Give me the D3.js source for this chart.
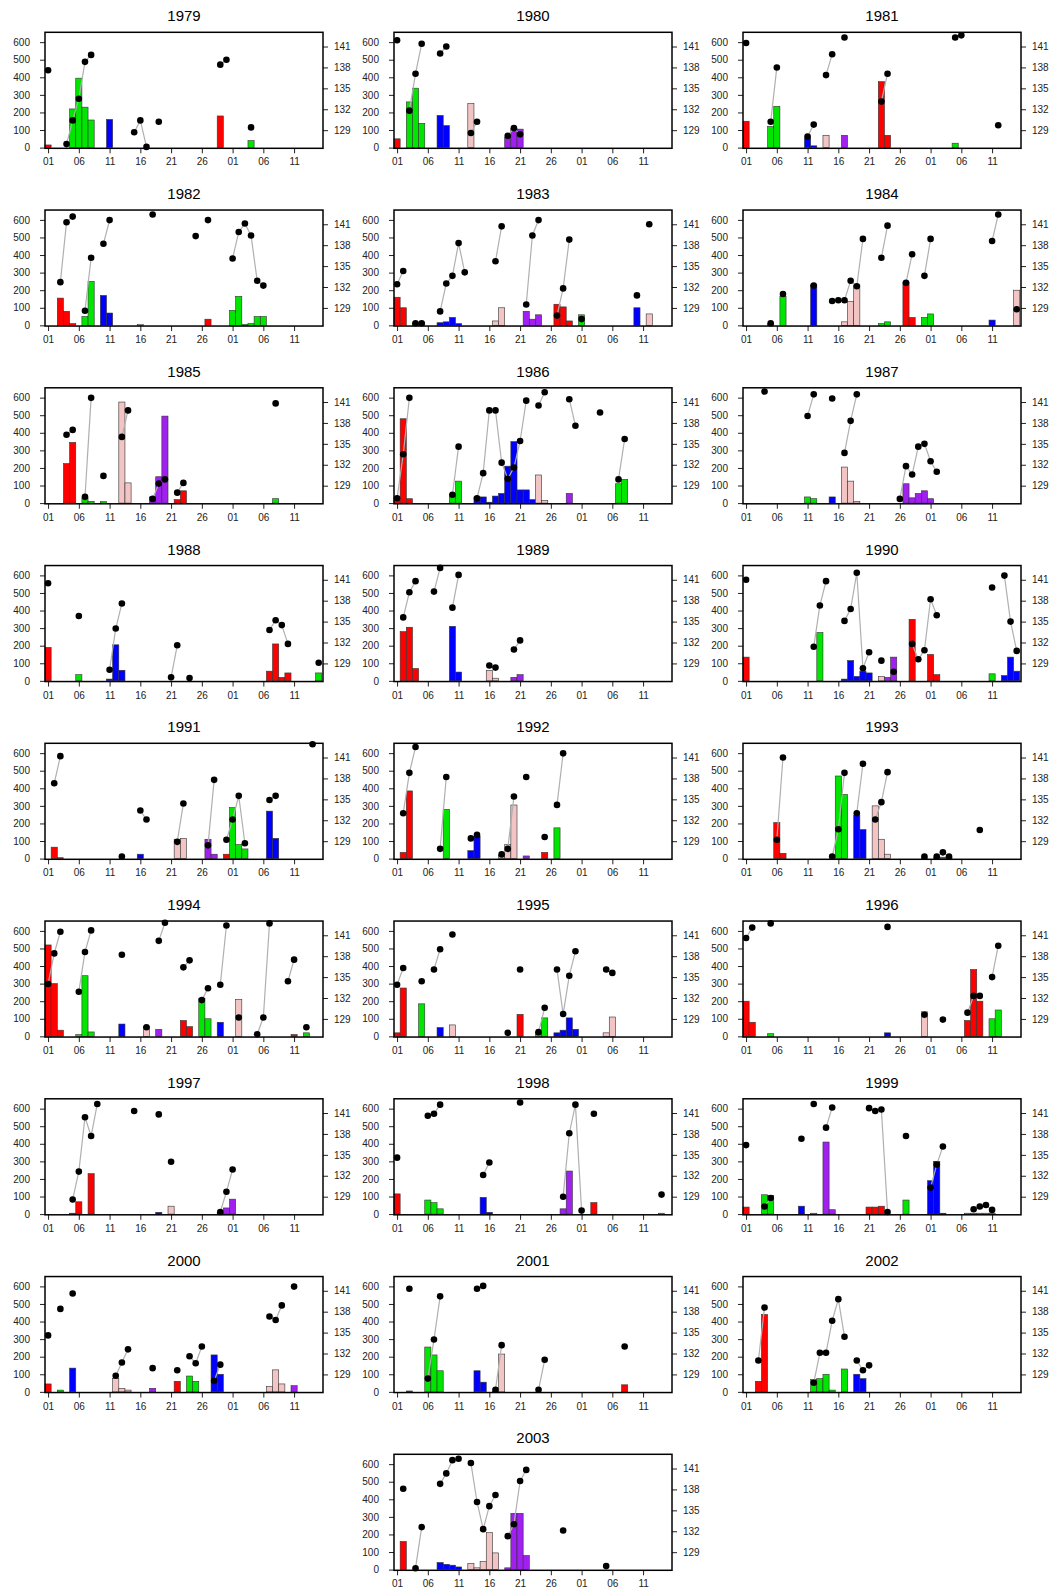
<!DOCTYPE html>
<html>
<head>
<meta charset="utf-8">
<script src="https://cdn.jsdelivr.net/npm/d3@7"></script>
<style>
  body { margin: 0; background: #fff; }
  text { font-family: "Liberation Sans", Arial, sans-serif; }
</style>
</head>
<body>
<script>
const width = 1061
const height = 1595

const years = d3.range(1979, 2004)
const dayTicks = [0, 5, 10, 15, 20, 25, 30, 35, 40]
const dayLabels = ["01", "06", "11", "16", "21", "26", "01", "06", "11"]
const leftTicks = [0, 100, 200, 300, 400, 500, 600]
const rightTicks = [129, 132, 135, 138, 141]

// bar runs: [year, class, first day, values for consecutive days...]
const barRuns = [
  [1979,"r",0,15],[1979,"g",4,220,395,230,157],[1979,"b",10,160],[1979,"r",28,180],[1979,"g",33,40],
  [1980,"r",0,50],[1980,"g",2,260,338,138],[1980,"b",7,183,125],[1980,"p",12,250],[1980,"v",18,60,110,105],
  [1981,"r",0,150],[1981,"g",4,120,235],[1981,"b",10,55,10],[1981,"p",13,70],[1981,"v",16,70],[1981,"r",22,375,70],[1981,"g",34,25],
  [1982,"r",2,155,80,10],[1982,"g",6,50,250],[1982,"b",9,170,70],[1982,"p",15,4],[1982,"r",26,35],[1982,"g",30,85,165,5,10,50,50],
  [1983,"r",0,160,100],[1983,"g",3,15,15],[1983,"b",7,15,20,45,10],[1983,"p",16,25,100],[1983,"v",21,80,35,60],[1983,"r",26,120,105,25],[1983,"g",30,60],[1983,"b",39,100],[1983,"p",41,65],
  [1984,"g",4,8,0,165],[1984,"b",11,230],[1984,"p",16,20,135,230],[1984,"g",22,10,20],[1984,"r",26,245,45],[1984,"g",29,45,65],[1984,"b",40,30],[1984,"p",44,200],
  [1985,"r",3,225,345],[1985,"g",6,30,10,0,8],[1985,"p",12,575,115],[1985,"v",17,35,150,495],[1985,"r",21,20,70],[1985,"g",37,25],
  [1986,"r",0,35,480,25],[1986,"g",9,50,125],[1986,"b",13,35,35,5,40,55,210,350,75,75,20],[1986,"p",23,160,15],[1986,"v",28,55],[1986,"g",36,110,135],
  [1987,"g",10,35,25],[1987,"b",14,35],[1987,"p",16,205,125,10],[1987,"v",26,110,30,55,70,25],
  [1988,"r",0,190],[1988,"g",5,35],[1988,"b",10,10,205,60],[1988,"r",36,55,210,20,45],[1988,"g",44,45],
  [1989,"r",1,280,305,70],[1989,"b",9,310,50],[1989,"p",15,60,15],[1989,"v",19,20,35],
  [1990,"r",0,135],[1990,"g",12,275],[1990,"b",16,10,115,25,55,45],[1990,"p",22,25],[1990,"v",23,20,135],[1990,"r",27,350,0,0,150,35],[1990,"g",40,40],[1990,"b",42,30,135,55],
  [1991,"r",1,65,5],[1991,"b",15,25],[1991,"p",21,110,115],[1991,"v",26,110,25],[1991,"r",29,25],[1991,"g",30,290,80,55],[1991,"b",36,270,115],
  [1992,"r",1,35,385],[1992,"g",8,280],[1992,"b",12,45,125],[1992,"p",17,20,80,305],[1992,"v",21,15],[1992,"r",24,35],[1992,"g",26,175],
  [1993,"r",5,205,30],[1993,"g",15,470,365],[1993,"b",18,245,165],[1993,"p",21,300,110,25],[1993,"v",29,5,0,5,8,5],
  [1994,"r",0,520,300,35],[1994,"g",5,10,345,25],[1994,"b",12,70],[1994,"p",16,55],[1994,"v",18,40],[1994,"r",22,90,55],[1994,"g",25,215,100],[1994,"b",28,80],[1994,"p",31,210],[1994,"r",40,10],[1994,"g",42,20],
  [1995,"r",0,20,275],[1995,"g",4,185],[1995,"b",7,50],[1995,"p",9,65],[1995,"r",20,125],[1995,"g",23,25,105],[1995,"b",26,20,35,105,40],[1995,"p",34,20,110],
  [1996,"r",0,200,80],[1996,"g",4,15],[1996,"b",23,20],[1996,"p",29,140],[1996,"r",36,90,380,200],[1996,"g",40,100,150],
  [1997,"r",4,5,70,0,230],[1997,"b",18,10],[1997,"p",20,45],[1997,"v",28,10,35,85],
  [1998,"r",0,115],[1998,"g",5,80,65,30],[1998,"b",14,95,10],[1998,"v",27,30,245],[1998,"r",32,65],[1998,"p",43,5],
  [1999,"r",0,40],[1999,"g",3,110,105],[1999,"b",9,45],[1999,"p",11,5],[1999,"v",13,410,25],[1999,"r",20,40,40,45],[1999,"g",26,80],[1999,"b",30,190,300,5],[1999,"p",36,5,5,5,5,5],
  [2000,"r",0,45],[2000,"g",2,10],[2000,"b",4,135],[2000,"p",11,75,20,10],[2000,"v",17,20],[2000,"r",21,60],[2000,"g",23,90,60],[2000,"b",27,210,100],[2000,"p",36,30,125,45],[2000,"v",40,35],
  [2001,"r",2,5],[2001,"g",5,255,210,120],[2001,"b",13,120,55],[2001,"p",16,5,215],[2001,"r",37,40],
  [2002,"r",2,60,440],[2002,"g",11,70,75,100,10],[2002,"g",16,130],[2002,"b",18,100,75],
  [2003,"r",1,160],[2003,"b",7,40,30,25,15],[2003,"p",12,35,10,45,210,95],[2003,"v",18,10,320,320,80]
]

// dot runs (right axis): [year, first day, values for consecutive days...]
const dotRuns = [
  [1979,0,137.6],[1979,3,127.0,130.4,133.5,138.8,139.8],[1979,14,128.7,130.4,126.6],[1979,18,130.2],[1979,28,138.4,139.1],[1979,33,129.4],
  [1980,0,141.9],[1980,2,131.8,137.1,141.4],[1980,7,140.0,141.0],[1980,12,128.6,130.2],[1980,18,128.2,129.3,128.4],
  [1981,0,141.5],[1981,4,130.2,138.0],[1981,10,128.1,129.8],[1981,13,136.9,139.9],[1981,16,142.3],[1981,22,133.1,137.1],[1981,34,142.3,142.6],[1981,41,129.7],
  [1982,2,132.7,141.3,142.1],[1982,6,128.6,136.2],[1982,9,138.2,141.6],[1982,17,142.4],[1982,24,139.3],[1982,26,141.6],[1982,30,136.1,139.9,141.1,139.4,132.9,132.2],
  [1983,0,132.4,134.3],[1983,3,126.8,126.8],[1983,7,128.5,132.5,133.6,138.3,134.1],[1983,16,135.7,140.7],[1983,21,129.5,139.4,141.6],[1983,26,127.9,131.8,138.8],[1983,30,127.4],[1983,39,130.8],[1983,41,141.0],
  [1984,4,126.8],[1984,6,131.0],[1984,11,132.2],[1984,14,130.0,130.1,130.1,132.9,132.1,138.9],[1984,22,136.2,140.8],[1984,26,132.6,136.7],[1984,29,133.6,138.9],[1984,40,138.6,142.4],[1984,44,128.8],
  [1985,3,136.3,137.0],[1985,6,127.4,141.6],[1985,9,130.4],[1985,12,136.0,139.8],[1985,17,127.1,129.3,129.9],[1985,21,128.0,129.4],[1985,37,140.8],
  [1986,0,127.2,133.5,141.6],[1986,9,127.7,134.6],[1986,13,127.2,130.8,139.8,139.8,132.3,130.0,131.6,135.4,141.2],[1986,23,140.5,142.4],[1986,28,141.4,137.6],[1986,33,139.5],[1986,36,129.9,135.7],
  [1987,3,142.5],[1987,10,139.0,142.1],[1987,14,141.5],[1987,16,133.7,138.3,142.1],[1987,25,127.1,131.8,130.6,134.6,135.0,132.5,131.0],
  [1988,0,140.5],[1988,5,135.8],[1988,10,128.1,134.0,137.6],[1988,20,127.0,131.6],[1988,23,126.9],[1988,36,133.8,135.2,134.5,131.8],[1988,44,129.1],
  [1989,1,135.6,139.2,140.8],[1989,6,139.3,142.7],[1989,9,137.0,141.7],[1989,15,128.7,128.4],[1989,19,131.0,132.3],
  [1990,0,141.0],[1990,11,131.4,137.3,140.8],[1990,16,135.1,136.8,142.0,128.3,130.6],[1990,22,129.4],[1990,24,127.8],[1990,27,131.8,129.6,130.9,138.2,135.9],[1990,40,139.9],[1990,42,141.6,135.0,130.8],
  [1991,1,137.3,141.2],[1991,12,126.8],[1991,15,133.4,132.1],[1991,21,128.9,134.4],[1991,26,128.4,137.8],[1991,29,129.2,132.1,135.5,128.7],[1991,36,134.9,135.5],[1991,43,142.9],
  [1992,1,133.0,138.8,142.5],[1992,7,127.9,138.2],[1992,12,129.4,129.9],[1992,17,127.1,127.9,135.4],[1992,21,138.2],[1992,24,129.6],[1992,26,134.2,141.6],
  [1993,5,129.2,141.0],[1993,14,126.8,130.7,138.8],[1993,18,133.0,140.1],[1993,21,132.1,134.6,138.9],[1993,29,126.8],[1993,31,126.8,127.4,126.8],[1993,38,130.6],
  [1994,0,134.0,138.4,141.5],[1994,5,132.9,138.6,141.7],[1994,12,138.2],[1994,16,127.8],[1994,18,140.2,142.8],[1994,22,136.4,137.4],[1994,25,131.7,133.4],[1994,28,133.9,142.4],[1994,31,129.2],[1994,34,126.8,129.2,142.7],[1994,39,134.4,137.5],[1994,42,127.8],
  [1995,0,133.9,136.3],[1995,4,134.4],[1995,6,136.1,139.0],[1995,9,141.1],[1995,18,127.0],[1995,20,136.1],[1995,23,127.1,130.6],[1995,26,136.1,129.7,135.2,138.7],[1995,34,136.1,135.6],
  [1996,0,140.6,142.1],[1996,4,142.7],[1996,23,142.2],[1996,29,129.6],[1996,32,128.9],[1996,36,129.9,132.3,132.3],[1996,40,135.0,139.5],
  [1997,4,128.6,132.6,140.4,137.7,142.3],[1997,14,141.3],[1997,18,140.8],[1997,20,134.0],[1997,28,126.8,129.7,132.9],
  [1998,0,134.6],[1998,5,140.6,140.9,142.2],[1998,14,132.1,133.9],[1998,20,142.5],[1998,27,129.0,138.1,142.2,127.0],[1998,32,140.9],[1998,43,129.3],
  [1999,0,136.4],[1999,3,127.6,128.8],[1999,9,137.3],[1999,11,142.3],[1999,13,138.9,141.8],[1999,20,141.7,141.3,141.5,126.8],[1999,26,137.7],[1999,30,130.3,133.6,136.2],[1999,37,127.2,127.6,127.8,127.1],
  [2000,0,134.6],[2000,2,138.4],[2000,4,140.6],[2000,11,128.8,130.7,132.6],[2000,17,129.9],[2000,21,129.6],[2000,23,131.6,130.6,133.0],[2000,27,128.1,130.4],[2000,36,137.3,136.8,138.9],[2000,40,141.6],
  [2001,2,141.3],[2001,5,128.4,134.0,140.2],[2001,13,141.3,141.7],[2001,16,126.8,133.2],[2001,23,126.8,131.1],[2001,37,133.0],
  [2002,2,131.0,138.6],[2002,11,127.8,132.1,132.1,136.7,139.8,134.4],[2002,18,131.0,129.6,130.3],
  [2003,1,138.1],[2003,3,126.7,132.6],[2003,7,138.8,140.3,142.2,142.4],[2003,12,141.8,136.2,132.3,135.6,137.2],[2003,18,131.3,133.0,139.2,140.8],[2003,27,132.1],[2003,34,127.0]
]

const classColor = {r: "#ff0000", g: "#00e600", b: "#0000ff", p: "#f2c4c4", v: "#a020f0"}

const panelW = 278
const panelH = 116
const colLeft = [45, 394, 743]
const rowTop = r => 32.3 + 177.75 * r

const x = d3.scaleLinear().domain([-0.5, 44.7]).range([0, panelW])
const yL = d3.scaleLinear().domain([-4, 656]).range([panelH, 0])
const yR = d3.scaleLinear().domain([126.4, 143.04]).range([panelH, 0])

const svg = d3.select("body").append("svg")
    .attr("width", width)
    .attr("height", height)
    .attr("viewBox", [0, 0, width, height])

years.forEach((year, i) => {
    const col = i === 24 ? 1 : i % 3
    const row = Math.floor(i / 3)
    const g = svg.append("g")
        .attr("transform", `translate(${colLeft[col]},${rowTop(row)})`)

    g.append("text")
        .attr("x", panelW / 2)
        .attr("y", -11)
        .attr("text-anchor", "middle")
        .attr("font-size", 15)
        .text(year)

    // bars
    const bars = []
    barRuns.filter(d => d[0] === year).forEach(run => {
        run.slice(3).forEach((v, k) => {
            if (v > 0) bars.push({day: run[2] + k, value: v, cls: run[1]})
        })
    })
    g.append("g")
        .attr("stroke", "#333")
        .attr("stroke-width", 0.6)
      .selectAll("rect")
      .data(bars)
      .join("rect")
        .attr("x", d => x(d.day - 0.5))
        .attr("width", d => x(d.day + 0.5) - x(d.day - 0.5))
        .attr("y", d => yL(d.value))
        .attr("height", d => yL(0) - yL(d.value))
        .attr("fill", d => classColor[d.cls])

    // dots and connecting lines
    const runs = dotRuns.filter(d => d[0] === year)
        .map(run => run.slice(2).map((v, k) => ({day: run[1] + k, value: v})))
    const line = d3.line().x(d => x(d.day)).y(d => yR(d.value))
    g.append("g")
        .attr("fill", "none")
        .attr("stroke", "#b0b0b0")
        .attr("stroke-width", 1.2)
      .selectAll("path")
      .data(runs.filter(r => r.length > 1))
      .join("path")
        .attr("d", line)
    g.append("g")
      .selectAll("circle")
      .data(runs.flat())
      .join("circle")
        .attr("cx", d => x(d.day))
        .attr("cy", d => yR(d.value))
        .attr("r", 3.3)
        .attr("fill", "#000")

    // axes
    const left = g.append("g")
        .call(d3.axisLeft(yL).tickValues(leftTicks).tickSize(5).tickPadding(10))
    const right = g.append("g")
        .attr("transform", `translate(${panelW},0)`)
        .call(d3.axisRight(yR).tickValues(rightTicks).tickSize(5).tickPadding(6))
    const bottom = g.append("g")
        .attr("transform", `translate(0,${panelH})`)
        .call(d3.axisBottom(x).tickValues(dayTicks).tickFormat((d, k) => dayLabels[k]).tickSize(5).tickPadding(5))
    ;[left, right, bottom].forEach(a => {
        a.select(".domain").remove()
        a.selectAll("text").attr("font-size", 10).attr("fill", "#222")
        a.selectAll("line").attr("stroke", "#222")
    })

    g.append("rect")
        .attr("width", panelW)
        .attr("height", panelH)
        .attr("fill", "none")
        .attr("stroke", "#000")
        .attr("stroke-width", 1.5)
})
</script>
</body>
</html>
